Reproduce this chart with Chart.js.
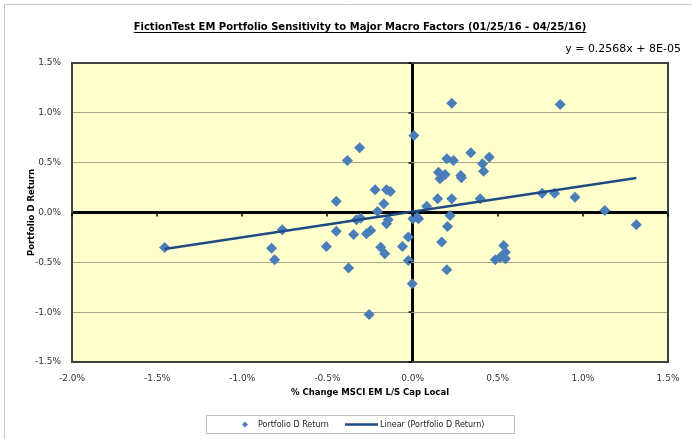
<!DOCTYPE html>
<html>
<head>
<meta charset="utf-8">
<script src="https://cdn.jsdelivr.net/npm/chart.js@4.4.1/dist/chart.umd.min.js"></script>
<style>
  html, body { margin: 0; padding: 0; background: #fff; }
  #wrap { width: 692px; height: 439px; }
</style>
</head>
<body>
<div id="wrap"><canvas id="chart" width="692" height="439"></canvas></div>
<script>
// --- Data (percent units) ---
// x: % change MSCI EM L/S Cap Local, y: Portfolio D return
const marketMoves = [
  -1.456, -0.828, -0.810, -0.765, -0.506, -0.448, -0.448, -0.383, -0.311, -0.220,
  -0.153, -0.130, -0.169, -0.206, -0.330, -0.305, -0.143, -0.153, -0.346, -0.271,
  -0.246, -0.187, -0.163, -0.376, -0.255, -0.059, -0.025, -0.025, -0.002, 0.008,
  0.002, 0.027, 0.035, 0.083, 0.220, 0.205, 0.171, 0.201, 0.230, 0.201,
  0.240, 0.342, 0.450, 0.411, 0.152, 0.191, 0.161, 0.283, 0.287, 0.417,
  0.147, 0.230, 0.397, 0.535, 0.545, 0.486, 0.515, 0.545, 0.761, 0.834,
  0.954, 1.129, 1.314, 0.867
];
const portfolioReturns = [
  -0.350, -0.358, -0.475, -0.174, -0.340, -0.187, 0.113, 0.522, 0.649, 0.228,
  0.228, 0.211, 0.087, 0.010, -0.073, -0.057, -0.073, -0.113, -0.220, -0.214,
  -0.180, -0.348, -0.414, -0.558, -1.023, -0.342, -0.247, -0.481, -0.715, 0.772,
  -0.063, -0.047, -0.063, 0.062, -0.030, -0.140, -0.296, -0.575, 1.096, 0.539,
  0.522, 0.600, 0.555, 0.488, 0.404, 0.381, 0.338, 0.371, 0.348, 0.413,
  0.139, 0.139, 0.137, -0.331, -0.398, -0.475, -0.448, -0.465, 0.194, 0.194,
  0.154, 0.020, -0.123, 1.083
];
// trendline as labelled on the chart: y = 0.2568x + 8E-05 (8E-05 = 0.008%)
const trendSlope = 0.2568;
const trendIntercept = 0.008;
const xTicks = [-2.0, -1.5, -1.0, -0.5, 0.0, 0.5, 1.0, 1.5];
const yTicks = [-1.5, -1.0, -0.5, 0.0, 0.5, 1.0, 1.5];

const titleText = 'FictionTest EM Portfolio Sensitivity to Major Macro Factors (01/25/16 - 04/25/16)';
const equationText = 'y = 0.2568x + 8E-05';
const pointColor = '#4A7EBB';
const trendColor = '#1F4A84';
const gridColor = '#A5A58C';

const scatterPoints = marketMoves.map((x, i) => ({ x: x, y: portfolioReturns[i] }));
const xLo = Math.min(...marketMoves);
const xHi = Math.max(...marketMoves);
const trendPoints = [
  { x: xLo, y: trendSlope * xLo + trendIntercept },
  { x: xHi, y: trendSlope * xHi + trendIntercept }
];

const pct = v => v.toFixed(1) + '%';

// --- Excel-style frame, title, equation, legend ---
const excelFrame = {
  id: 'excelFrame',
  beforeDraw(chart) {
    const { ctx, chartArea: a } = chart;
    ctx.save();
    ctx.fillStyle = '#fff';
    ctx.fillRect(0, 0, chart.width, chart.height);
    ctx.fillStyle = '#FFFFCC';
    ctx.fillRect(a.left, a.top, a.right - a.left, a.bottom - a.top);
    ctx.restore();
  },
  afterDraw(chart) {
    const { ctx, chartArea: a, scales } = chart;
    ctx.save();

    // outer chart border (top and left visible)
    ctx.strokeStyle = '#C8C8C8';
    ctx.lineWidth = 1;
    ctx.beginPath();
    ctx.moveTo(4.5, chart.height);
    ctx.lineTo(4.5, 4.5);
    ctx.lineTo(chart.width, 4.5);
    ctx.stroke();

    // plot area border
    ctx.strokeStyle = '#404040';
    ctx.lineWidth = 2;
    ctx.strokeRect(a.left, a.top, a.right - a.left, a.bottom - a.top);

    // small tick marks along the zero axes
    const x0 = scales.x.getPixelForValue(0);
    const y0 = scales.y.getPixelForValue(0);
    ctx.strokeStyle = '#000';
    ctx.lineWidth = 1.5;
    ctx.beginPath();
    xTicks.forEach(v => {
      const px = Math.round(scales.x.getPixelForValue(v));
      ctx.moveTo(px, y0 + 1);
      ctx.lineTo(px, y0 + 4);
    });
    yTicks.forEach(v => {
      const py = Math.round(scales.y.getPixelForValue(v));
      ctx.moveTo(x0 - 1, py);
      ctx.lineTo(x0 - 4, py);
    });
    ctx.stroke();

    // title, underlined
    ctx.fillStyle = '#000';
    ctx.font = 'bold 10px "DejaVu Sans"';
    ctx.textAlign = 'center';
    ctx.textBaseline = 'alphabetic';
    const tx = 360, ty = 30;
    ctx.fillText(titleText, tx, ty);
    const tw = ctx.measureText(titleText).width;
    ctx.lineWidth = 1;
    ctx.beginPath();
    ctx.moveTo(tx - tw / 2, ty + 2.5);
    ctx.lineTo(tx + tw / 2, ty + 2.5);
    ctx.stroke();

    // trendline equation
    ctx.font = '11px "DejaVu Sans"';
    ctx.textAlign = 'right';
    ctx.fillText(equationText, 681, 52);

    // legend
    ctx.strokeStyle = '#BFBFBF';
    ctx.lineWidth = 1;
    ctx.strokeRect(206.5, 415.5, 308, 18);
    const ly = 424.5;
    ctx.fillStyle = pointColor;
    ctx.beginPath();
    ctx.moveTo(245, ly - 3);
    ctx.lineTo(248, ly);
    ctx.lineTo(245, ly + 3);
    ctx.lineTo(242, ly);
    ctx.closePath();
    ctx.fill();
    ctx.fillStyle = '#222';
    ctx.font = '8px "DejaVu Sans"';
    ctx.textAlign = 'left';
    ctx.textBaseline = 'middle';
    ctx.fillText(chart.data.datasets[0].label, 258, ly);
    ctx.strokeStyle = trendColor;
    ctx.lineWidth = 2.5;
    ctx.beginPath();
    ctx.moveTo(345, ly);
    ctx.lineTo(378, ly);
    ctx.stroke();
    ctx.fillText(chart.data.datasets[1].label, 380, ly);

    ctx.restore();
  }
};

const axisFont = { family: '"DejaVu Sans"', size: 9 };
const titleFont = { family: '"DejaVu Sans"', size: 8.5, weight: 'bold' };

new Chart(document.getElementById('chart'), {
  type: 'scatter',
  data: {
    datasets: [
      {
        label: 'Portfolio D Return',
        data: scatterPoints,
        pointStyle: 'rectRot',
        pointRadius: 5.5,
        pointHoverRadius: 5.5,
        backgroundColor: pointColor,
        borderColor: pointColor,
        borderWidth: 0,
        order: 2
      },
      {
        type: 'line',
        label: 'Linear (Portfolio D Return)',
        data: trendPoints,
        borderColor: trendColor,
        borderWidth: 2.5,
        pointRadius: 0,
        fill: false,
        order: 1
      }
    ]
  },
  options: {
    responsive: false,
    animation: false,
    devicePixelRatio: 1,
    layout: { padding: { left: 0, right: 24, top: 63, bottom: 32 } },
    plugins: {
      legend: { display: false },
      title: { display: false },
      tooltip: { enabled: false }
    },
    scales: {
      x: {
        type: 'linear',
        min: -2.0,
        max: 1.5,
        afterBuildTicks: s => { s.ticks = xTicks.map(v => ({ value: v })); },
        afterFit: s => { s.height = 45; },
        ticks: { callback: v => pct(v), font: axisFont, color: '#333', padding: 11, maxRotation: 0 },
        grid: {
          drawTicks: false,
          tickLength: 0,
          color: c => (c.tick && c.tick.value === 0 ? '#000' : 'rgba(0,0,0,0)'),
          lineWidth: c => (c.tick && c.tick.value === 0 ? 3 : 0)
        },
        border: { display: false },
        title: {
          display: true,
          text: '% Change MSCI EM L/S Cap Local',
          font: titleFont,
          color: '#000',
          padding: { top: 0, bottom: 9 }
        }
      },
      y: {
        type: 'linear',
        min: -1.5,
        max: 1.5,
        afterBuildTicks: s => { s.ticks = yTicks.map(v => ({ value: v })); },
        afterFit: s => { s.width = 72; },
        ticks: { callback: v => pct(v), font: axisFont, color: '#333', padding: 11 },
        grid: {
          drawTicks: false,
          tickLength: 0,
          color: c => (c.tick && c.tick.value === 0 ? '#000' : gridColor),
          lineWidth: c => (c.tick && c.tick.value === 0 ? 3 : 1)
        },
        border: { display: false },
        title: {
          display: true,
          text: 'Portfolio D Return',
          font: titleFont,
          color: '#000',
          padding: { top: 27, bottom: 0 }
        }
      }
    }
  },
  plugins: [excelFrame]
});
</script>
</body>
</html>
